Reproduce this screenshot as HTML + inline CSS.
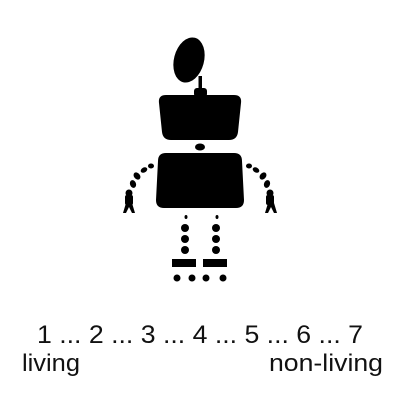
<!DOCTYPE html>
<html><head><meta charset="utf-8"><style>html,body{margin:0;padding:0;background:#fff;}svg{display:block}</style></head>
<body>
<svg width="400" height="400" viewBox="0 0 400 400">
<g fill="#000">
<ellipse cx="189" cy="60" rx="15" ry="23" transform="rotate(15 189 60)"/>
<rect x="198.5" y="76" width="3.5" height="14"/>
<rect x="194" y="88" width="13" height="9" rx="3"/>
<path d="M166 95 H234 Q242 95 241 103 L238 132 Q237 140 229 140 H171 Q163 140 162 132 L159 103 Q158 95 166 95Z"/>
<ellipse cx="200" cy="147" rx="5" ry="3.5"/>
<path d="M166 153 H234 Q242 153 242 161 L244 200 Q244 208 236 208 H164 Q156 208 156 200 L158 161 Q158 153 166 153Z"/>
<g>
<ellipse cx="151" cy="166" rx="3" ry="2.5"/><ellipse cx="144" cy="170" rx="3.5" ry="2.5" transform="rotate(-30 144 170)"/>
<ellipse cx="137" cy="176" rx="3" ry="4" transform="rotate(-40 137 176)"/><ellipse cx="133" cy="184" rx="3" ry="4" transform="rotate(-20 133 184)"/>
<ellipse cx="129" cy="193" rx="3.5" ry="3.5"/><rect x="125" y="195" width="8" height="10" rx="2"/>
<path d="M123 213 L126 203 H132 L135 213 H132 L129 207 L126 213Z"/>
</g>
<g>
<ellipse cx="249" cy="166" rx="3" ry="2.5"/><ellipse cx="256" cy="170" rx="3.5" ry="2.5" transform="rotate(30 256 170)"/>
<ellipse cx="263" cy="176" rx="3" ry="4" transform="rotate(40 263 176)"/><ellipse cx="267" cy="184" rx="3" ry="4" transform="rotate(20 267 184)"/>
<ellipse cx="270" cy="193" rx="3.5" ry="3.5"/><rect x="266" y="195" width="8" height="10" rx="2"/>
<path d="M265 213 L268 203 H274 L277 213 H274 L271 207 L268 213Z"/>
</g>
<g>
<ellipse cx="186" cy="217" rx="1.5" ry="2"/><circle cx="185" cy="228" r="4"/><circle cx="185" cy="239" r="4"/><circle cx="185" cy="250" r="4"/>
<rect x="172" y="259" width="24" height="8"/><circle cx="177" cy="278" r="3.5"/><circle cx="192" cy="278" r="3.5"/>
</g>
<g>
<ellipse cx="217" cy="217" rx="1.5" ry="2"/><circle cx="216" cy="228" r="4"/><circle cx="216" cy="239" r="4"/><circle cx="216" cy="250" r="4"/>
<rect x="203" y="259" width="24" height="8"/><circle cx="206" cy="278" r="3.5"/><circle cx="223" cy="278" r="3.5"/>
</g>
</g>
<g font-family="Liberation Sans, Arial, sans-serif" fill="#111">
<text x="37" y="343" font-size="25" textLength="326" lengthAdjust="spacingAndGlyphs">1 ... 2 ... 3 ... 4 ... 5 ... 6 ... 7</text>
<text x="22" y="371" font-size="24" textLength="58" lengthAdjust="spacingAndGlyphs">living</text>
<text x="269" y="371" font-size="24" textLength="114" lengthAdjust="spacingAndGlyphs">non-living</text>
</g>
</svg>
</body></html>
